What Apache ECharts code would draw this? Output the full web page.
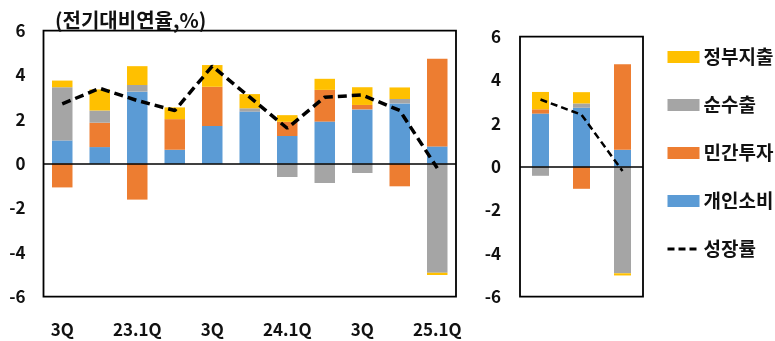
<!DOCTYPE html>
<html>
<head>
<meta charset="utf-8">
<script src="https://cdn.jsdelivr.net/npm/echarts@6/dist/echarts.min.js"></script>
<style>
  html, body { margin: 0; padding: 0; background: #fff; }
  #chart { width: 775px; height: 341px; }
</style>
</head>
<body>
<div id="chart"></div>
<script>
// Quarterly GDP growth (annualised q/q) and contributions by component
const quarters = ['3Q', '4Q', '23.1Q', '2Q', '3Q', '4Q', '24.1Q', '2Q', '3Q', '4Q', '25.1Q'];
const consumption = [1.05, 0.75, 3.25, 0.63, 1.70, 2.35, 1.25, 1.90, 2.45, 2.72, 0.78];   // 개인소비
const investment  = [-1.07, 1.10, -1.62, 1.38, 1.77, 0.00, 0.64, 1.43, 0.20, -1.02, 3.95]; // 민간투자
const netExports  = [2.40, 0.55, 0.30, 0.00, 0.00, 0.15, -0.60, -0.87, -0.42, 0.20, -4.92]; // 순수출
const government  = [0.30, 0.95, 0.85, 0.53, 0.98, 0.64, 0.30, 0.50, 0.80, 0.52, -0.10];  // 정부지출
const growth      = [2.7, 3.4, 2.85, 2.4, 4.4, 3.0, 1.6, 3.0, 3.1, 2.4, -0.2];              // 성장률
const yTicks = [-6, -4, -2, 0, 2, 4, 6];

// Right-hand panel repeats the latest three quarters
const recentCount = 3;
const recent = arr => arr.slice(arr.length - recentCount);

const COLORS = { consumption: '#5B9BD5', investment: '#ED7D31', net: '#A5A5A5', gov: '#FFC000' };
const FONT = "'Noto Sans CJK KR', 'Noto Sans', sans-serif";

const chart = echarts.init(document.getElementById('chart'));

function barSeries(name, data, color, idx, width) {
  return {
    name, type: 'bar', stack: 'g' + idx, data,
    xAxisIndex: idx, yAxisIndex: idx,
    barWidth: width,
    itemStyle: { color },
    emphasis: { disabled: true },
    z: 2
  };
}

function panelSeries(idx, width, lineWidth, dash) {
  const sl = idx === 0 ? (a => a) : recent;
  const first = barSeries('개인소비', sl(consumption), COLORS.consumption, idx, width);
  first.markLine = {
    silent: true, symbol: 'none', label: { show: false },
    lineStyle: { color: '#000', width: 1.5, type: 'solid' },
    data: [{ yAxis: 0 }]
  };
  return [
    first,
    barSeries('민간투자', sl(investment), COLORS.investment, idx, width),
    barSeries('순수출', sl(netExports), COLORS.net, idx, width),
    barSeries('정부지출', sl(government), COLORS.gov, idx, width),
    {
      name: '성장률', type: 'line', data: sl(growth),
      xAxisIndex: idx, yAxisIndex: idx,
      symbol: 'none',
      lineStyle: { color: '#000', width: lineWidth, type: dash },
      itemStyle: { color: '#000' },
      z: 5
    }
  ];
}

const yAxisCommon = {
  type: 'value', min: -6, max: 6, interval: 2,
  axisLine: { show: false }, axisTick: { show: false },
  splitLine: { show: false },
  axisLabel: {
    color: '#111', fontSize: 17, fontWeight: 'bold', fontFamily: FONT,
    formatter: v => yTicks.includes(v) ? String(v) : ''
  }
};

chart.setOption({
  animation: false,
  title: {
    text: '(전기대비연율,%)', left: 50, top: 5,
    textStyle: { fontSize: 20, fontWeight: 'bold', color: '#111', fontFamily: FONT }
  },
  grid: [
    { left: 43.5, top: 30.7, width: 412.5, height: 266, show: true, borderColor: '#000', borderWidth: 1.8, backgroundColor: 'transparent' },
    { left: 520, top: 36.7, width: 123, height: 260, show: true, borderColor: '#000', borderWidth: 1.8, backgroundColor: 'transparent' }
  ],
  xAxis: [
    {
      type: 'category', gridIndex: 0, data: quarters,
      axisLine: { show: false }, axisTick: { show: false },
      axisLabel: { interval: 1, margin: 24, color: '#111', fontSize: 17, fontWeight: 'bold', fontFamily: FONT }
    },
    {
      type: 'category', gridIndex: 1, data: recent(quarters),
      axisLine: { show: false }, axisTick: { show: false },
      axisLabel: { show: false }
    }
  ],
  yAxis: [
    Object.assign({ gridIndex: 0 }, yAxisCommon, { axisLabel: Object.assign({}, yAxisCommon.axisLabel, { margin: 18 }) }),
    Object.assign({ gridIndex: 1 }, yAxisCommon, { axisLabel: Object.assign({}, yAxisCommon.axisLabel, { margin: 19 }) })
  ],
  legend: {
    orient: 'vertical', left: 661, top: 41,
    itemWidth: 32, itemHeight: 12, itemGap: 26,
    selectedMode: false,
    textStyle: { fontSize: 19, fontWeight: 'bold', color: '#111', fontFamily: FONT, lineHeight: 22, padding: [0, 0, 0, -1] },
    data: [
      { name: '정부지출', icon: 'rect' },
      { name: '순수출', icon: 'rect' },
      { name: '민간투자', icon: 'rect' },
      { name: '개인소비', icon: 'rect' },
      { name: '성장률', itemStyle: { opacity: 0 }, lineStyle: { type: [7, 4], width: 3, color: '#000' } }
    ]
  },
  series: [
    ...panelSeries(0, 20.5, 3.5, [9, 5]),
    ...panelSeries(1, 17, 2.5, [7, 4])
  ]
});
</script>
</body>
</html>
